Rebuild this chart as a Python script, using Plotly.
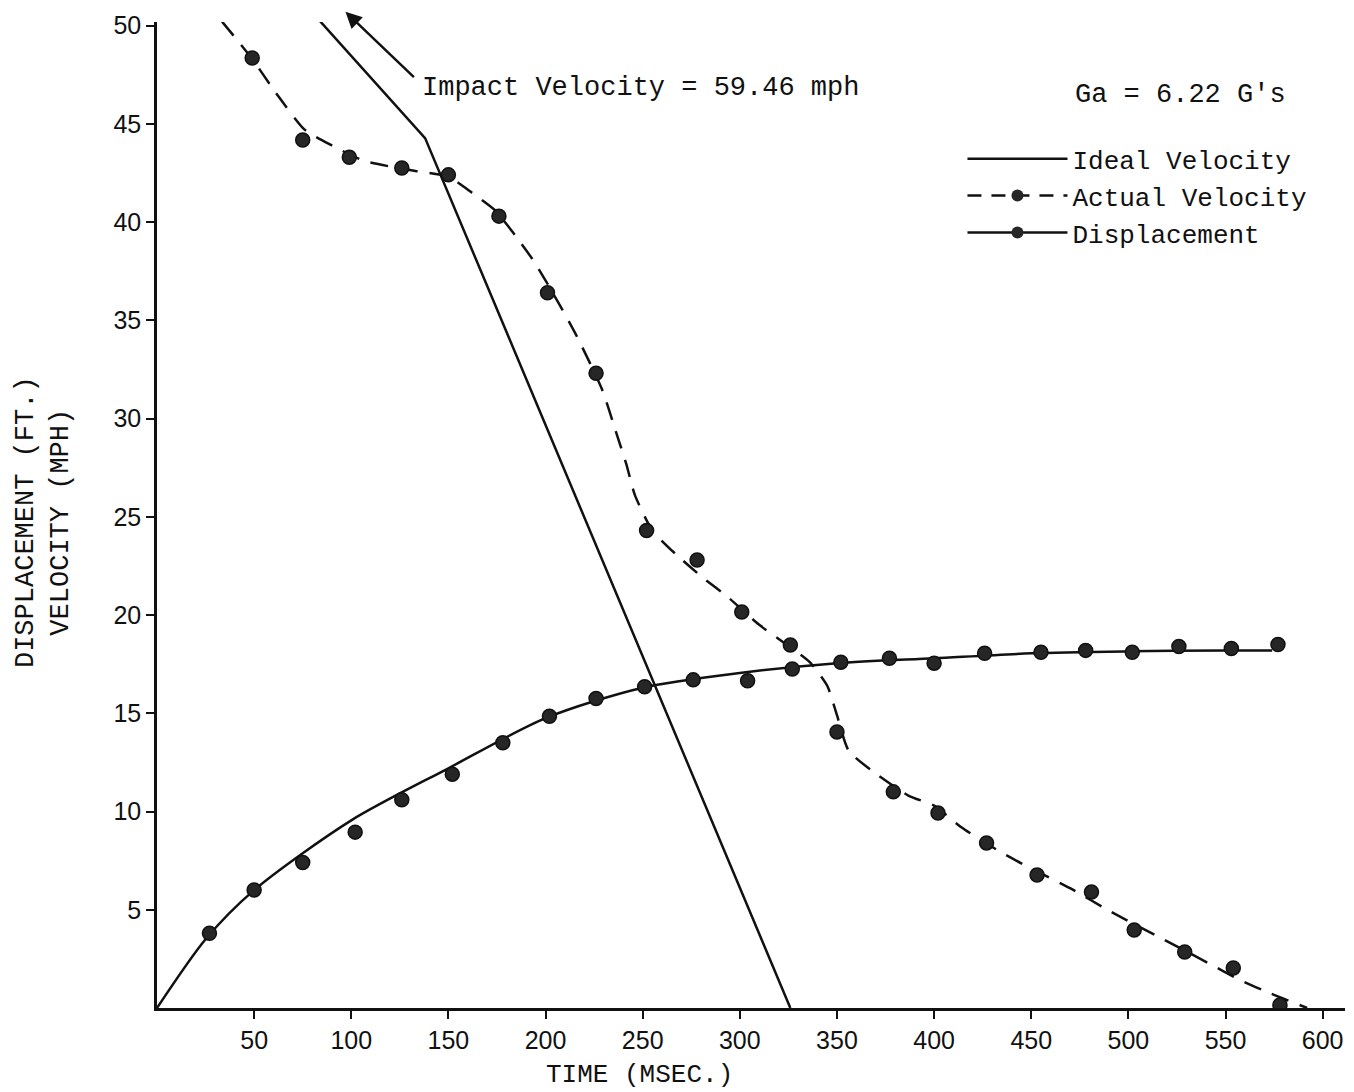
import plotly.graph_objects as go

# ---- data ----
ideal_t = [0, 138, 326]
ideal_v = [59.46, 44.27, 0]

actual_t = [49, 75, 99, 126, 150, 176, 201, 226, 252, 278, 301, 326, 350, 379, 402, 427, 453, 481, 503, 529, 554, 578]
actual_v = [48.35, 44.17, 43.3, 42.75, 42.4, 40.3, 36.4, 32.3, 24.3, 22.8, 20.15, 18.47, 14.05, 11.0, 9.92, 8.4, 6.77, 5.9, 3.97, 2.85, 2.04, 0.15]

actual_curve_t = [33.5, 49, 61, 76, 90, 107, 133, 150, 162, 174, 183, 194, 206, 216, 229, 236, 241.5, 246, 255, 267, 281, 294, 310, 324, 336, 345, 350, 356, 369, 387, 400, 414, 434, 448, 470, 491, 516, 538, 558, 573, 592]
actual_curve_v = [50.2, 48.3, 46.6, 44.7, 43.9, 43.1, 42.6, 42.3, 41.5, 40.6, 39.5, 38.0, 36.0, 34.2, 31.5, 29.4, 27.7, 26.1, 24.3, 23.1, 21.9, 20.9, 19.5, 18.5, 17.6, 16.4, 14.9, 13.1, 12.0, 10.8, 10.3, 9.2, 7.95, 7.2, 6.1, 4.9, 3.6, 2.45, 1.4, 0.75, 0.0]

disp_t = [27, 50, 75, 102, 126, 152, 178, 202, 226, 251, 276, 304, 327, 352, 377, 400, 426, 455, 478, 502, 526, 553, 577]
disp_v = [3.8, 6.0, 7.4, 8.95, 10.6, 11.9, 13.5, 14.85, 15.75, 16.35, 16.7, 16.65, 17.25, 17.6, 17.8, 17.55, 18.05, 18.1, 18.2, 18.1, 18.4, 18.3, 18.5]

disp_curve_t = [0, 25, 50, 100, 150, 200, 250, 300, 350, 400, 450, 500, 550, 574]
disp_curve_v = [0, 3.5, 6.0, 9.55, 12.2, 14.75, 16.3, 17.05, 17.55, 17.8, 18.05, 18.15, 18.2, 18.2]

x_ticks = [50, 100, 150, 200, 250, 300, 350, 400, 450, 500, 550, 600]
y_ticks = [5, 10, 15, 20, 25, 30, 35, 40, 45, 50]

INK = "#111111"
MARK = "#262626"
MONO = "Liberation Mono, Courier New, monospace"
SANS = "Liberation Sans, Arial, sans-serif"

fig = go.Figure()

fig.add_trace(go.Scatter(x=ideal_t, y=ideal_v, mode="lines",
                         line=dict(color=INK, width=2.5),
                         name="Ideal Velocity"))
fig.add_trace(go.Scatter(x=actual_curve_t, y=actual_curve_v, mode="lines",
                         line=dict(color=INK, width=2.5, dash="18px,12px", shape="spline", smoothing=0.6),
                         showlegend=False))
fig.add_trace(go.Scatter(x=actual_t, y=actual_v, mode="markers",
                         marker=dict(color=MARK, size=14, line=dict(color=INK, width=1.5)),
                         showlegend=False))
fig.add_trace(go.Scatter(x=disp_curve_t, y=disp_curve_v, mode="lines",
                         line=dict(color=INK, width=2.5, shape="spline", smoothing=0.8),
                         showlegend=False))
fig.add_trace(go.Scatter(x=disp_t, y=disp_v, mode="markers",
                         marker=dict(color=MARK, size=14, line=dict(color=INK, width=1.5)),
                         showlegend=False))
# legend-only entries
fig.add_trace(go.Scatter(x=[None], y=[None], mode="lines+markers",
                         line=dict(color=INK, width=2.5, dash="14px,10px"),
                         marker=dict(color=MARK, size=12),
                         name="Actual Velocity"))
fig.add_trace(go.Scatter(x=[None], y=[None], mode="lines+markers",
                         line=dict(color=INK, width=2.5),
                         marker=dict(color=MARK, size=12),
                         name="Displacement"))

fig.add_annotation(x=97, y=50.7, ax=133, ay=47.3, axref="x", ayref="y",
                   xref="x", yref="y", text="", showarrow=True,
                   arrowhead=2, arrowsize=1.3, arrowwidth=2.5, arrowcolor=INK)
fig.add_annotation(x=135.4, y=46.8, xref="x", yref="y", text="Impact Velocity = 59.46 mph",
                   showarrow=False, xanchor="left", yanchor="middle",
                   font=dict(family=MONO, size=27, color=INK))
fig.add_annotation(x=471.4, y=46.46, xref="x", yref="y", text="Ga = 6.22 G's",
                   showarrow=False, xanchor="left", yanchor="middle",
                   font=dict(family=MONO, size=27, color=INK))
fig.add_annotation(x=248.6, y=-0.068, xref="x", yref="paper", text="TIME (MSEC.)",
                   showarrow=False, xanchor="center", yanchor="middle",
                   font=dict(family=MONO, size=26, color=INK))
fig.add_annotation(x=-0.095, y=0.493, xref="paper", yref="paper",
                   text="DISPLACEMENT (FT.)<br>VELOCITY (MPH)", textangle=-90,
                   showarrow=False, xanchor="center", yanchor="middle",
                   font=dict(family=MONO, size=27, color=INK))

fig.update_layout(
    width=1354, height=1092,
    margin=dict(l=157, r=9, t=22, b=84),
    paper_bgcolor="white", plot_bgcolor="white",
    showlegend=True,
    legend=dict(x=0.678, y=0.885, xanchor="left", yanchor="top",
                font=dict(family=MONO, size=26, color=INK),
                bgcolor="rgba(0,0,0,0)", itemwidth=100, tracegroupgap=0),
    font=dict(family=SANS, color=INK),
)
fig.update_xaxes(range=[0, 611.5], tickvals=x_ticks, ticktext=[str(v) for v in x_ticks],
                 showgrid=False, zeroline=False, showline=True, linecolor=INK, linewidth=2.5,
                 ticks="outside", ticklen=8, tickwidth=2, tickcolor=INK,
                 tickfont=dict(family=SANS, size=25, color=INK))
fig.update_yaxes(range=[0, 50.18], tickvals=y_ticks, ticktext=[str(v) for v in y_ticks],
                 showgrid=False, zeroline=False, showline=True, linecolor=INK, linewidth=2.5,
                 ticks="outside", ticklen=8, tickwidth=2, tickcolor=INK,
                 tickfont=dict(family=SANS, size=25, color=INK))

fig.write_html("out.html")
